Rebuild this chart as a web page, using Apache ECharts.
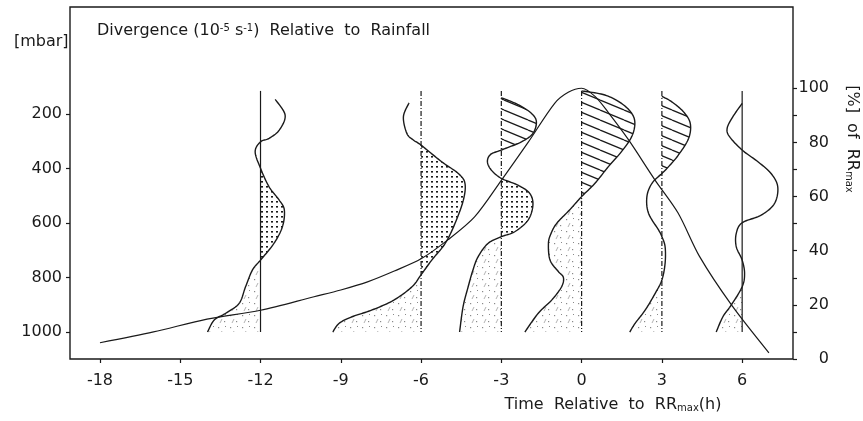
<!DOCTYPE html>
<html>
<head>
<meta charset="utf-8">
<script src="https://cdn.jsdelivr.net/npm/echarts@6/dist/echarts.min.js"></script>
<style>
html, body { margin: 0; padding: 0; background: #fff; }
#chart { width: 863px; height: 421px; }
</style>
</head>
<body>
<div id="chart"></div>
<script>
// axis ticks
var timeTicks = [-18, -15, -12, -9, -6, -3, 0, 3, 6];
var pressureTicks = [200, 400, 600, 800, 1000];
var percentTicks = [0, 20, 40, 60, 80, 100];
var percentMinor = [0, 10, 20, 30, 40, 50, 60, 70, 80, 90, 100];

// rainfall in % of RRmax
var rainTime = [-18, -16, -14, -12, -10, -9, -8, -7, -6, -5, -4, -3, -2, -1, -0.5, 0, 0.5, 1, 1.75, 2.75, 3.6, 4.4, 5.6, 7];
var rainPct = [6, 10, 14.7, 18, 23, 25.5, 28.5, 32.5, 37, 44, 52.5, 66, 80, 94.5, 98.5, 100, 97, 91, 81, 66, 54, 38, 20, 2.3];

// divergence profiles, drawn as offsets (in hours of the time axis) from the profile line
var profileTime = [-12, -6, -3, 0, 3, 6];
var profileDashed = [false, true, true, true, true, false];
var lineTop = 115;

var levM12 = [146, 204, 259, 289, 302, 338, 399, 467, 516, 552, 613, 675, 736, 772, 834, 895, 931, 956, 1000];
var divM12 = [0.55, 0.92, 0.70, 0.32, 0, -0.2, 0, 0.32, 0.70, 0.89, 0.82, 0.50, 0, -0.30, -0.56, -0.80, -1.30, -1.73, -1.98];

var levM6 = [159, 210, 271, 295, 314, 375, 418, 454, 516, 601, 675, 736, 790, 834, 883, 919, 944, 968, 1000];
var divM6 = [-0.45, -0.66, -0.53, -0.29, 0, 0.77, 1.39, 1.64, 1.58, 1.27, 0.90, 0.40, 0, -0.34, -1.02, -1.83, -2.58, -3.06, -3.30];

var levM3 = [140, 165, 197, 228, 271, 302, 332, 348, 375, 406, 436, 461, 491, 534, 589, 632, 650, 675, 724, 772, 834, 907, 1000];
var divM3 = [0, 0.62, 1.12, 1.31, 1.18, 0.75, 0, -0.40, -0.52, -0.37, 0, 0.62, 1.06, 1.18, 1.0, 0.5, 0, -0.5, -0.87, -1.06, -1.24, -1.43, -1.56];

var lev0 = [115, 130, 161, 197, 234, 283, 338, 393, 454, 503, 552, 601, 640, 675, 736, 778, 800, 834, 883, 931, 1000];
var div0 = [0, 0.87, 1.49, 1.87, 1.99, 1.87, 1.49, 1.0, 0.5, 0, -0.45, -0.93, -1.15, -1.24, -1.18, -0.87, -0.68, -0.75, -1.12, -1.62, -2.12];

var levP3 = [135, 155, 192, 234, 289, 350, 393, 418, 454, 503, 564, 626, 650, 687, 748, 809, 858, 919, 968, 1000];
var divP3 = [0, 0.37, 0.81, 1.06, 1.0, 0.62, 0.25, 0, -0.37, -0.56, -0.5, -0.12, 0, 0.12, 0.12, 0, -0.25, -0.62, -1.0, -1.2];

var levP6 = [161, 210, 252, 283, 332, 375, 418, 467, 528, 571, 599, 638, 687, 736, 785, 834, 901, 944, 1000];
var divP6 = [0, -0.35, -0.56, -0.47, 0, 0.59, 1.08, 1.33, 1.21, 0.71, 0, -0.22, -0.22, 0, 0.09, 0, -0.41, -0.72, -0.97];

// shaded layers [top, bottom, kind]
var fillM12 = [[399, 736, 'dots'], [736, 1000, 'light']];
var fillM6 = [[314, 790, 'dots'], [790, 1000, 'light']];
var fillM3 = [[140, 332, 'hatch'], [436, 650, 'dots'], [650, 1000, 'light']];
var fill0 = [[115, 503, 'hatch'], [503, 1000, 'light']];
var fillP3 = [[135, 418, 'hatch'], [809, 1000, 'light']];
var fillP6 = [[834, 1000, 'light']];

var profileLevels = [levM12, levM6, levM3, lev0, levP3, levP6];
var profileDiv = [divM12, divM6, divM3, div0, divP3, divP6];
var profileFills = [fillM12, fillM6, fillM3, fill0, fillP3, fillP6];

var FONT = 'DejaVu Sans';
var INK = '#1a1a1a';

function makePattern(w, h, draw) {
    var c = document.createElement('canvas');
    c.width = w;
    c.height = h;
    draw(c.getContext('2d'));
    return { image: c, repeat: 'repeat' };
}

var patterns = {
    hatch: makePattern(24, 10, function (ctx) {
        ctx.strokeStyle = INK;
        ctx.lineWidth = 1.3;
        for (var k = -1; k <= 1; k++) {
            ctx.beginPath();
            ctx.moveTo(0, k * 10);
            ctx.lineTo(24, k * 10 + 10);
            ctx.stroke();
        }
    }),
    dots: makePattern(5, 5, function (ctx) {
        ctx.fillStyle = INK;
        ctx.fillRect(1, 1, 2, 1.6);
    }),
    light: makePattern(12, 12, function (ctx) {
        ctx.fillStyle = '#8a8a8a';
        ctx.fillRect(2, 3, 1.2, 1.2);
        ctx.fillRect(8, 9, 1.2, 1.2);
        ctx.fillRect(9, 2, 1, 1);
        ctx.strokeStyle = '#a0a0a0';
        ctx.lineWidth = 0.8;
        ctx.beginPath();
        ctx.moveTo(4, 11);
        ctx.lineTo(6, 7);
        ctx.stroke();
    })
};

// catmull-rom through the projected points, keeps the segment index of each sample
function sampleCurve(pts, steps) {
    var out = [];
    for (var i = 0; i < pts.length - 1; i++) {
        var a = pts[Math.max(i - 1, 0)], b = pts[i], c = pts[i + 1], d = pts[Math.min(i + 2, pts.length - 1)];
        for (var s = 0; s < steps; s++) {
            var u = s / steps, u2 = u * u, u3 = u2 * u;
            var x = 0.5 * (2 * b[0] + (c[0] - a[0]) * u + (2 * a[0] - 5 * b[0] + 4 * c[0] - d[0]) * u2 + (3 * b[0] - a[0] - 3 * c[0] + d[0]) * u3);
            var y = 0.5 * (2 * b[1] + (c[1] - a[1]) * u + (2 * a[1] - 5 * b[1] + 4 * c[1] - d[1]) * u2 + (3 * b[1] - a[1] - 3 * c[1] + d[1]) * u3);
            out.push([x, y, i]);
        }
    }
    var last = pts[pts.length - 1];
    out.push([last[0], last[1], pts.length - 1]);
    return out;
}

function renderProfile(params, api) {
    var i = api.value(2);
    var t = profileTime[i], lev = profileLevels[i], div = profileDiv[i];
    var pts = lev.map(function (p, k) { return api.coord([t + div[k], p]); });
    var curve = sampleCurve(pts, 12);
    var top = api.coord([t, lineTop]);
    var bottom = api.coord([t, 1000]);
    var children = [];

    profileFills[i].forEach(function (f) {
        var a = lev.indexOf(f[0]), b = lev.indexOf(f[1]);
        var poly = [];
        curve.forEach(function (c) {
            if (c[2] >= a && c[2] < b) poly.push([c[0], c[1]]);
        });
        poly.push(pts[b]);
        poly.push([top[0], pts[b][1]]);
        poly.push([top[0], pts[a][1]]);
        children.push({
            type: 'polygon',
            shape: { points: poly },
            style: { fill: patterns[f[2]], stroke: null }
        });
    });

    children.push({
        type: 'line',
        shape: { x1: top[0], y1: top[1], x2: bottom[0], y2: bottom[1] },
        style: { stroke: INK, lineWidth: 1.2, lineDash: profileDashed[i] ? [5, 2, 1, 2] : null }
    });

    children.push({
        type: 'polyline',
        shape: { points: curve.map(function (c) { return [c[0], c[1]]; }) },
        style: { stroke: INK, lineWidth: 1.4, fill: null }
    });

    return { type: 'group', children: children };
}

var chart = echarts.init(document.getElementById('chart'));

var option = {
    animation: false,
    backgroundColor: '#fff',
    grid: {
        left: 70, top: 7, width: 723, height: 352,
        show: true, borderColor: INK, borderWidth: 1.4, backgroundColor: 'transparent'
    },
    xAxis: {
        type: 'value',
        min: -19.12,
        max: 7.9,
        position: 'bottom',
        axisLine: { show: false, onZero: false },
        splitLine: { show: false },
        axisTick: { show: true, customValues: timeTicks, length: 4, lineStyle: { color: INK, width: 1.2 } },
        axisLabel: {
            customValues: timeTicks, margin: 14, color: INK, fontSize: 16, fontFamily: FONT,
            formatter: function (v) { return String(v); }
        }
    },
    yAxis: [{
        type: 'value',
        inverse: true,
        min: -193,
        max: 1099,
        position: 'left',
        axisLine: { show: false, onZero: false },
        splitLine: { show: false },
        axisTick: { show: true, customValues: pressureTicks, length: 4, lineStyle: { color: INK, width: 1.2 } },
        axisLabel: {
            customValues: pressureTicks, margin: 8, color: INK, fontSize: 16, fontFamily: FONT,
            formatter: function (v) { return String(v); }
        }
    }, {
        type: 'value',
        min: 0,
        max: 130,
        position: 'right',
        axisLine: { show: false, onZero: false },
        splitLine: { show: false },
        axisTick: { show: true, customValues: percentMinor, length: 4, lineStyle: { color: INK, width: 1.2 } },
        axisLabel: {
            customValues: percentTicks, margin: 36, align: 'right', color: INK, fontSize: 16, fontFamily: FONT,
            formatter: function (v) { return String(v); }
        }
    }],
    graphic: [{
        type: 'text', x: 97, y: 31, z: 10,
        style: {
            text: '{t|Divergence (10}{s|-5}{t| s}{s|-1}{t|)  Relative  to  Rainfall}',
            align: 'left', verticalAlign: 'middle',
            rich: {
                t: { fontSize: 16, fontFamily: FONT, fill: INK },
                s: { fontSize: 10, fontFamily: FONT, fill: INK, verticalAlign: 'top' }
            }
        }
    }, {
        type: 'text', x: 14, y: 42, z: 10,
        style: { text: '[mbar]', align: 'left', verticalAlign: 'middle', font: '16px ' + FONT, fill: INK }
    }, {
        type: 'text', x: 613, y: 405, z: 10,
        style: {
            text: '{t|Time  Relative  to  RR}{s|max}{t|(h)}',
            align: 'center', verticalAlign: 'middle',
            rich: {
                t: { fontSize: 16, fontFamily: FONT, fill: INK },
                s: { fontSize: 10, fontFamily: FONT, fill: INK, verticalAlign: 'bottom' }
            }
        }
    }, {
        type: 'text', x: 852, y: 139, z: 10, rotation: -Math.PI / 2,
        style: {
            text: '{t|[%]  of  RR}{s|max}',
            align: 'center', verticalAlign: 'middle',
            rich: {
                t: { fontSize: 16, fontFamily: FONT, fill: INK },
                s: { fontSize: 10, fontFamily: FONT, fill: INK, verticalAlign: 'bottom' }
            }
        }
    }],
    series: [{
        type: 'custom',
        xAxisIndex: 0,
        yAxisIndex: 0,
        z: 2,
        renderItem: renderProfile,
        encode: { x: 0, y: 1 },
        data: profileTime.map(function (t, i) { return [t, 500, i]; })
    }, {
        type: 'line',
        xAxisIndex: 0,
        yAxisIndex: 1,
        z: 3,
        smooth: 0.3,
        showSymbol: false,
        lineStyle: { color: INK, width: 1.2 },
        data: rainTime.map(function (t, i) { return [t, rainPct[i]]; })
    }]
};

chart.setOption(option);
</script>
</body>
</html>
